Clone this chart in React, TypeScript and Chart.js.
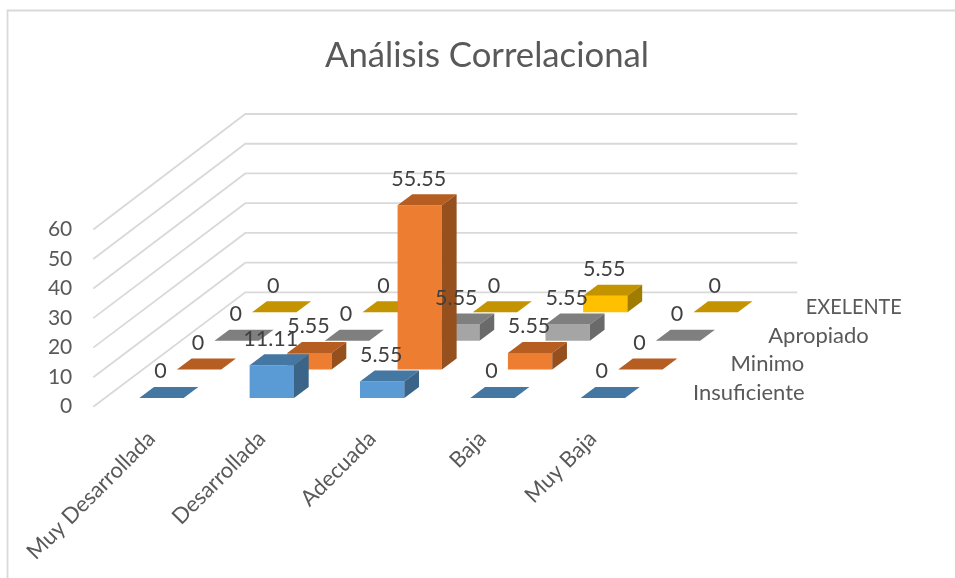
import React, { useEffect, useRef } from "react";
import { Chart, registerables } from "chart.js";

Chart.register(...registerables);

const categories = ["Muy Desarrollada", "Desarrollada", "Adecuada", "Baja", "Muy Baja"];
const seriesNames = ["Insuficiente", "Minimo", "Apropiado", "EXELENTE"];
const insuficiente = [0, 11.11, 5.55, 0, 0];
const minimo = [0, 5.55, 55.55, 5.55, 0];
const apropiado = [0, 0, 5.55, 5.55, 0];
const exelente = [0, 0, 0, 5.55, 0];
const seriesValues = [insuficiente, minimo, apropiado, exelente];
const frontColors = ["#5B9BD5", "#ED7D31", "#A5A5A5", "#FFC000"];
const topColors = ["#4577A3", "#B65D22", "#7F7F7F", "#C39300"];
const sideColors = ["#3A6588", "#95501D", "#6A6A6A", "#A07C00"];

const FONT = "Lato, Carlito, sans-serif";
const ROW_DX = 37.6;
const ROW_DY = 28.6;
const FRONT_DY = 8.7;
const TOP_DX = 14.7;
const TOP_DY = 11;
const WALL_DX = 152;
const WALL_DY = 114.3;
const WALL_X = 13;

const shiftOf = (d: number) => ({ x: ROW_DX * d, y: -(FRONT_DY + ROW_DY * d) });

const poly = (ctx: any, pts: number[][], color: string) => {
  ctx.fillStyle = color;
  ctx.beginPath();
  pts.forEach((p, i) => (i ? ctx.lineTo(p[0], p[1]) : ctx.moveTo(p[0], p[1])));
  ctx.closePath();
  ctx.fill();
};

const depthPlugin = {
  id: "depth3d",
  beforeDatasetsDraw(chart: any) {
    const { ctx } = chart;
    const y = chart.scales.y;
    const x0 = chart.scales.x.left - WALL_X;
    const x1 = x0 + WALL_DX;
    const x2 = x1 + 552;
    ctx.save();
    // chart frame
    ctx.strokeStyle = "#D9D9D9";
    ctx.lineWidth = 1.8;
    ctx.beginPath();
    ctx.moveTo(7.5, chart.height);
    ctx.lineTo(7.5, 10.5);
    ctx.lineTo(chart.width, 10.5);
    ctx.stroke();
    // side wall and back wall
    y.ticks.forEach((t: any) => {
      const py = y.getPixelForValue(t.value);
      const back = py - WALL_DY - (t.value / 60) * 1.2;
      ctx.beginPath();
      ctx.moveTo(x0, py);
      ctx.lineTo(x1, back);
      ctx.lineTo(x2, back);
      ctx.stroke();
    });
    ctx.restore();
  },
  beforeDatasetDraw(chart: any, args: any) {
    const s = shiftOf(args.index);
    chart.ctx.save();
    chart.ctx.translate(s.x, s.y);
  },
  afterDatasetDraw(chart: any, args: any) {
    const { ctx } = chart;
    const d = args.index;
    args.meta.data.forEach((el: any) => {
      const l = el.x - el.width / 2;
      const r = el.x + el.width / 2;
      poly(ctx, [[l, el.y], [r, el.y], [r + TOP_DX, el.y - TOP_DY], [l + TOP_DX, el.y - TOP_DY]], topColors[d]);
      if (el.base - el.y > 0.5) {
        poly(ctx, [[r, el.y], [r + TOP_DX, el.y - TOP_DY], [r + TOP_DX, el.base - TOP_DY], [r, el.base]], sideColors[d]);
      }
    });
    ctx.restore();
  },
  afterDatasetsDraw(chart: any) {
    const { ctx } = chart;
    const x = chart.scales.x;
    const y = chart.scales.y;
    ctx.save();
    ctx.textBaseline = "middle";
    // depth axis labels
    ctx.textAlign = "left";
    ctx.fillStyle = "#595959";
    ctx.font = `22px ${FONT}`;
    seriesNames.forEach((name, d) => {
      const px = x.right + 35 + ROW_DX * d;
      const py = y.bottom - 13.7 - ROW_DY * d;
      if (name === name.toUpperCase()) ctx.fillText(name, px, py, 96);
      else ctx.fillText(name, px, py);
    });
    // value labels
    ctx.textAlign = "center";
    ctx.fillStyle = "#404040";
    ctx.font = `21.5px ${FONT}`;
    seriesValues.forEach((vals, d) => {
      const s = shiftOf(d);
      const el = chart.getDatasetMeta(d).data;
      vals.forEach((v, i) => {
        ctx.fillText(String(v), el[i].x + s.x - 1, el[i].y + s.y - 26.5);
      });
    });
    ctx.restore();
  },
};

export default function App() {
  const ref = useRef<HTMLCanvasElement | null>(null);
  useEffect(() => {
    document.body.style.margin = "0";
    const chart = new Chart(ref.current as HTMLCanvasElement, {
      type: "bar",
      data: {
        labels: categories,
        datasets: seriesValues.map((vals, d) => ({
          label: seriesNames[d],
          data: vals,
          backgroundColor: frontColors[d],
          borderWidth: 0,
          grouped: false,
          clip: false,
          categoryPercentage: 1,
          barPercentage: 0.402,
        })) as any,
      },
      options: {
        responsive: false,
        animation: false,
        layout: { padding: { left: 19, right: 0, top: 0, bottom: 0 } },
        plugins: {
          legend: { display: false },
          tooltip: { enabled: false },
          title: {
            display: true,
            text: "Análisis Correlacional",
            color: "#595959",
            font: { family: FONT, size: 34.7, weight: "normal" },
            padding: { top: 35, bottom: 229.5 - 35 - 41.64 },
          },
        },
        scales: {
          x: {
            grid: { display: false, drawTicks: false },
            border: { display: false },
            afterFit(s: any) {
              s.height = 171.3;
            },
            ticks: {
              autoSkip: false,
              minRotation: 45,
              maxRotation: 45,
              padding: 19,
              labelOffset: -10,
              color: "#595959",
              font: { family: FONT, size: 22 },
            },
          },
          y: {
            min: 0,
            max: 60,
            grid: { display: false, drawTicks: false },
            border: { display: false },
            afterFit(s: any) {
              s.width = 87.3;
            },
            ticks: {
              stepSize: 10,
              padding: 34,
              color: "#595959",
              font: { family: FONT, size: 21 },
            },
          },
          spacer: {
            position: "right",
            display: true,
            min: 0,
            max: 1,
            grid: { display: false, drawTicks: false },
            border: { display: false },
            ticks: { display: false },
            afterFit(s: any) {
              s.width = 297;
            },
          },
        },
      } as any,
      plugins: [depthPlugin],
    });
    return () => chart.destroy();
  }, []);
  return (
    <div style={{ position: "absolute", left: 0, top: 0, width: 955, height: 578 }}>
      <canvas ref={ref} width={955} height={578} style={{ display: "block" }} />
    </div>
  );
}
